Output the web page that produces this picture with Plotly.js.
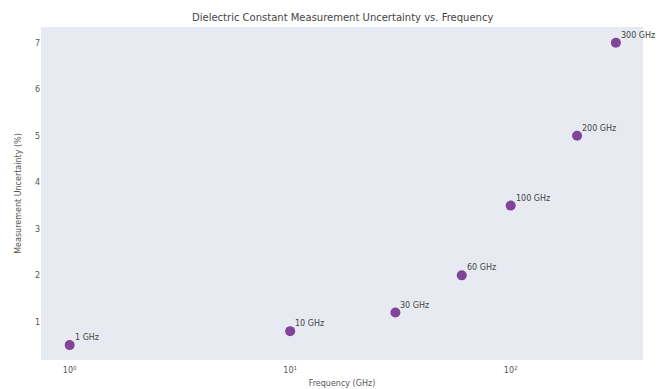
<!DOCTYPE html>
<html>
<head>
<meta charset="utf-8">
<script src="https://cdn.plot.ly/plotly-3.0.1.min.js"></script>
<style>
  html, body { margin: 0; padding: 0; background: #ffffff; }
  #chart { width: 659px; height: 389px; }
</style>
</head>
<body>
<div id="chart"></div>
<script>
// Measurement uncertainty of the dielectric constant at each test frequency
const frequencies = [1, 10, 30, 60, 100, 200, 300];          // GHz
const uncertainty = [0.5, 0.8, 1.2, 2.0, 3.5, 5.0, 7.0];      // %
const pointLabels = ['1 GHz', '10 GHz', '30 GHz', '60 GHz', '100 GHz', '200 GHz', '300 GHz'];

const xTickVals = [1, 10, 100];
const xTickText = ['10<sup>0</sup>', '10<sup>1</sup>', '10<sup>2</sup>'];
const yTickVals = [1, 2, 3, 4, 5, 6, 7];

const trace = {
  type: 'scatter',
  mode: 'markers',
  x: frequencies,
  y: uncertainty,
  marker: { size: 10, color: '#7b3b92', opacity: 0.95 },
  cliponaxis: false,
  hoverinfo: 'x+y'
};

// Point labels sit just above and to the right of each marker
const labelAnnotations = frequencies.map((f, i) => ({
  x: Math.log10(f),
  y: uncertainty[i],
  xref: 'x',
  yref: 'y',
  text: pointLabels[i],
  showarrow: false,
  xanchor: 'left',
  yanchor: 'bottom',
  xshift: 3,
  yshift: 1,
  font: { family: 'DejaVu Sans, sans-serif', size: 8, color: '#444444' }
}));

const layout = {
  width: 659,
  height: 389,
  margin: { l: 41, r: 16, t: 27, b: 29 },
  paper_bgcolor: '#ffffff',
  plot_bgcolor: '#e8eaf2',
  showlegend: false,
  font: { family: 'DejaVu Sans, sans-serif', size: 8, color: '#555555' },
  title: {
    text: 'Dielectric Constant Measurement Uncertainty vs. Frequency',
    font: { family: 'DejaVu Sans, sans-serif', size: 10, color: '#444444' },
    x: 0.52, xanchor: 'center',
    y: 0.955, yanchor: 'middle'
  },
  annotations: labelAnnotations,
  xaxis: {
    type: 'log',
    range: [-0.13, 2.6],
    tickvals: xTickVals,
    ticktext: xTickText,
    showgrid: false,
    zeroline: false,
    showline: false,
    ticks: '',
    ticklabelstandoff: 4,
    tickfont: { size: 8, color: '#555555' },
    title: { text: 'Frequency (GHz)', font: { size: 8, color: '#555555' }, standoff: 6 }
  },
  yaxis: {
    range: [0.18, 7.34],
    tickvals: yTickVals,
    showgrid: false,
    zeroline: false,
    showline: false,
    ticks: '',
    tickfont: { size: 8, color: '#555555' },
    title: { text: 'Measurement Uncertainty (%)', font: { size: 8, color: '#555555' }, standoff: 12 }
  }
};

Plotly.newPlot('chart', [trace], layout, { displayModeBar: false, staticPlot: true });
</script>
</body>
</html>
